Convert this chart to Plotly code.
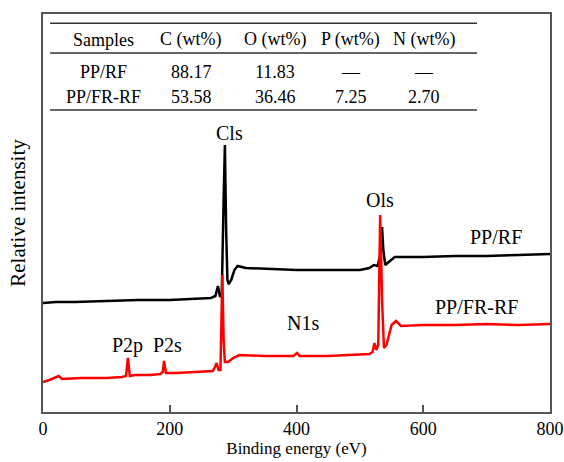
import plotly.graph_objects as go

# ---- data ----
pp_rf_energy = [0, 20, 50, 100, 150, 200, 250, 265, 272, 276, 279, 282, 285, 287, 289, 291, 293,
                297, 302, 307, 320, 350, 400, 450, 500, 515, 522, 528, 532, 535, 537, 540, 545,
                555, 570, 600, 650, 700, 750, 800]
pp_rf_int = [109, 110, 110, 111, 112, 112, 113, 114, 116, 126, 116, 115, 212, 267, 182, 132, 128,
             132, 142, 146, 144, 143, 142, 142, 142, 144, 147, 146, 157, 185, 162, 147, 150,
             155, 155, 155, 156, 156, 157, 158]

pp_frrf_energy = [0, 10, 25, 30, 60, 100, 125, 131, 134, 137, 145, 170, 185, 189, 191, 194, 210,
                  250, 268, 272, 274, 277, 280, 283, 285, 287, 292, 300, 310, 350, 395, 401, 405,
                  450, 500, 515, 520, 523, 526, 529, 532, 535, 538, 542, 550, 557, 565, 600, 650,
                  700, 750, 800]
pp_frrf_int = [30, 32, 36, 33, 34, 34, 35, 36, 54, 36, 37, 37, 38, 40, 51, 39, 39,
               40, 41, 46, 49, 42, 42, 137, 72, 50, 50, 54, 57, 56, 56, 59, 56,
               56, 57, 58, 60, 69, 62, 67, 197, 112, 64, 67, 87, 91, 86, 87, 87,
               88, 87, 88]

peak_labels = ["Cls", "P2p", "P2s", "N1s", "Ols", "PP/RF", "PP/FR-RF"]
peak_label_x = [294, 134, 197, 411, 531, 715, 684]
peak_label_y = [279, 67, 67, 89, 212, 175, 105]

table_header = ["Samples", "C (wt%)", "O (wt%)", "P (wt%)", "N (wt%)"]
table_rows = [["PP/RF", "88.17", "11.83", "\u2014", "\u2014"],
              ["PP/FR-RF", "53.58", "36.46", "7.25", "2.70"]]

x_ticks = [0, 200, 400, 600, 800]

# ---- figure ----
FONT = "Liberation Serif, Times New Roman, serif"
fig = go.Figure()
fig.add_trace(go.Scatter(x=pp_rf_energy, y=pp_rf_int, mode="lines",
                         line=dict(color="black", width=2.5), name="PP/RF"))
fig.add_trace(go.Scatter(x=pp_frrf_energy, y=pp_frrf_int, mode="lines",
                         line=dict(color="#ff0000", width=2.5), name="PP/FR-RF"))

for t, x, y in zip(peak_labels, peak_label_x, peak_label_y):
    fig.add_annotation(x=x, y=y, text=t, showarrow=False, xanchor="center", yanchor="middle",
                       font=dict(family=FONT, size=20, color="black"))

# table (paper coordinates)
tx0, tx1 = 0.014, 0.856
for yl in [0.977, 0.902, 0.759]:
    fig.add_shape(type="line", xref="paper", yref="paper", x0=tx0, x1=tx1, y0=yl, y1=yl,
                  line=dict(color="#333333", width=1.5))
col_x = [0.120, 0.292, 0.458, 0.607, 0.751]
row_y = [0.935, 0.854, 0.791]
for cx, h in zip(col_x, table_header):
    fig.add_annotation(xref="paper", yref="paper", x=cx, y=row_y[0], text=h, showarrow=False,
                       xanchor="center", yanchor="middle",
                       font=dict(family=FONT, size=18, color="black"))
for ry, row in zip(row_y[1:], table_rows):
    for cx, v in zip(col_x, row):
        fig.add_annotation(xref="paper", yref="paper", x=cx, y=ry, text=v, showarrow=False,
                           xanchor="center", yanchor="middle",
                           font=dict(family=FONT, size=18, color="black"))

fig.update_layout(
    width=564, height=462,
    margin=dict(l=43, r=14, t=14, b=50),
    paper_bgcolor="white", plot_bgcolor="white",
    showlegend=False,
    font=dict(family=FONT, size=18, color="black"),
)
fig.update_xaxes(range=[0, 800], tickvals=x_ticks, ticks="inside", ticklen=7, tickwidth=1.5,
                 tickcolor="#555555", showline=True, linecolor="#555555", linewidth=1.5,
                 mirror=True, showgrid=False, zeroline=False, automargin=False,
                 title=dict(text="Binding energy (eV)", font=dict(size=17), standoff=0),
                 tickfont=dict(size=18))
fig.update_yaxes(range=[0, 398], showticklabels=False, ticks="", showline=True,
                 linecolor="#555555", linewidth=1.5, mirror=True, showgrid=False, zeroline=False,
                 automargin=False,
                 title=dict(text="Relative intensity", font=dict(size=21), standoff=10))

fig.write_html("out.html", config={"displayModeBar": False},
               post_script="document.body.style.margin='0';document.body.style.padding='0';")
